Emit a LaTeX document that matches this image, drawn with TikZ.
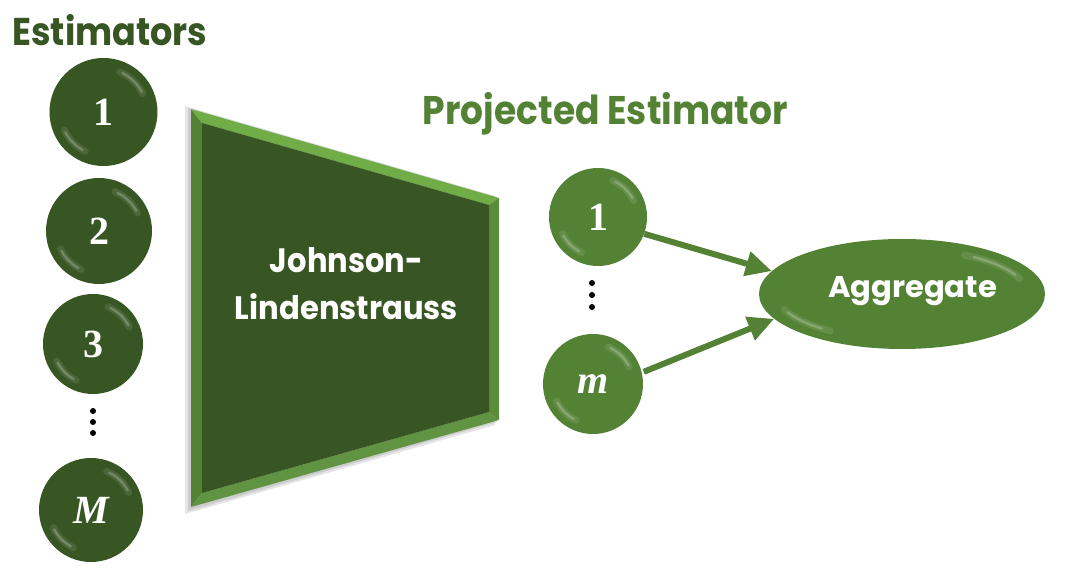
\documentclass[tikz,border=0pt]{standalone}
\usepackage{fontspec}
\usepackage{graphicx}
\usetikzlibrary{arrows.meta,shapes.geometric,calc}
\newfontfamily\popb{Poppins}
\newfontfamily\numfont{Liberation Serif}[BoldFont={Liberation Serif Bold},BoldItalicFont={Liberation Serif Bold Italic}]
\definecolor{gdark}{HTML}{375623}
\definecolor{gmid}{HTML}{548235}
\definecolor{glight}{HTML}{70AD47}
\definecolor{gright}{HTML}{5B8C3B}
\definecolor{gbot}{HTML}{609342}
\newcommand\myGloss[2]{%
  \draw[glosswide] ($(#1.center)+(25:#2*0.80)$) arc[start angle=25,end angle=68,radius=#2*0.80];
  \draw[gloss] ($(#1.center)+(28:#2*0.80)$) arc[start angle=28,end angle=64,radius=#2*0.80];
  \draw[glosswide] ($(#1.center)+(205:#2*0.80)$) arc[start angle=205,end angle=245,radius=#2*0.80];
  \draw[gloss] ($(#1.center)+(208:#2*0.80)$) arc[start angle=208,end angle=241,radius=#2*0.80];
}
\begin{document}
\begin{tikzpicture}[x=1pt,y=1pt,
  ballD/.style={circle,fill=gdark,inner sep=0pt,text=white,font=\numfont\bfseries\fontsize{40}{40}\selectfont},
  ballM/.style={circle,fill=gmid,inner sep=0pt,text=white,font=\numfont\bfseries\fontsize{40}{40}\selectfont},
  gloss/.style={white,line width=2.5pt,opacity=0.22,line cap=round},
  glosswide/.style={white,line width=7pt,opacity=0.10,line cap=round},
  dotm/.style={circle,fill=black,inner sep=0pt,minimum size=6pt},
  lbl/.style={inner sep=0pt,anchor=base},
  arr/.style={gmid,line width=6pt,-{Triangle[length=26pt,width=24pt]}}]
\useasboundingbox (0,0) rectangle (1085,572);
\fill[white] (0,0) rectangle (1085,572);

% titles
\node[lbl,text=gdark] (t1) at (110,526) {\resizebox{195pt}{31pt}{\popb\bfseries Estimators}};
\node[lbl,text=gmid] (t2) at (605.5,447) {\resizebox{365pt}{32pt}{\popb\bfseries Projected Estimator}};

% left balls
\node[ballD,minimum size=108pt] (c1) at (103.5,460) {1};
\node[ballD,minimum size=106pt] (c2) at (99,341) {2};
\node[ballD,minimum size=100pt] (c3) at (93,228) {3};
\node[ballD,minimum size=104pt] (cM) at (91,62) {\itshape M};
\myGloss{c1}{54}
\myGloss{c2}{53}
\myGloss{c3}{50}
\myGloss{cM}{52}
\node[dotm] (ld1) at (93,161) {};
\node[dotm] (ld2) at (93,150) {};
\node[dotm] (ld3) at (93,139) {};

% trapezoid (JL projection)
\fill[black,opacity=0.10] (185,466) -- (495,376) -- (495,147) -- (185,58) -- cycle;
\fill[black,opacity=0.10] (188,464) -- (497,375) -- (497,150) -- (188,61) -- cycle;
\coordinate (oTL) at (191,463);
\coordinate (oTR) at (499,374);
\coordinate (oBR) at (499,152);
\coordinate (oBL) at (191,65);
\coordinate (iTL) at (202,449);
\coordinate (iTR) at (489,367);
\coordinate (iBR) at (489,160);
\coordinate (iBL) at (202,79);
\fill[gmid] (oTL) -- (iTL) -- (iBL) -- (oBL) -- cycle;
\fill[glight] (oTL) -- (oTR) -- (iTR) -- (iTL) -- cycle;
\fill[gright] (oTR) -- (oBR) -- (iBR) -- (iTR) -- cycle;
\fill[gbot] (oBL) -- (iBL) -- (iBR) -- (oBR) -- cycle;
\fill[gdark] (iTL) -- (iTR) -- (iBR) -- (iBL) -- cycle;
\node[lbl,text=white] (jl1) at (346.5,299) {\resizebox{153pt}{25pt}{\popb\bfseries Johnson-}};
\node[lbl,text=white] (jl2) at (346.5,252) {\resizebox{223pt}{26pt}{\popb\bfseries Lindenstrauss}};

% projected balls
\node[ballM,minimum size=98pt] (p1) at (598,355) {1};
\node[ballM,minimum size=100pt] (pm) at (593,188) {\itshape m};
\myGloss{p1}{49}
\myGloss{pm}{50}
\node[dotm] (rd1) at (592,289) {};
\node[dotm] (rd2) at (592,277) {};
\node[dotm] (rd3) at (592,265) {};

% aggregate
\node[ellipse,fill=gmid,minimum width=286pt,minimum height=110pt,inner sep=0pt] (agg) at (902,278) {};
\draw[glosswide] ($(agg.center)+(60:125 and 45)$) arc[start angle=60,end angle=20,x radius=125,y radius=45];
\draw[gloss] ($(agg.center)+(55:125 and 45)$) arc[start angle=55,end angle=25,x radius=125,y radius=45];
\draw[glosswide] ($(agg.center)+(200:125 and 45)$) arc[start angle=200,end angle=235,x radius=125,y radius=45];
\draw[gloss] ($(agg.center)+(204:125 and 45)$) arc[start angle=204,end angle=230,x radius=125,y radius=45];
\node[lbl,text=white] (aggt) at (912.5,274) {\resizebox{169pt}{21pt}{\popb\bfseries Aggregate}};

% arrows
\draw[arr] (p1.-20) -- (agg.170.5);
\draw[arr] ($(pm.14)+(2,0)$) -- (agg.191.7);
\end{tikzpicture}
\end{document}
